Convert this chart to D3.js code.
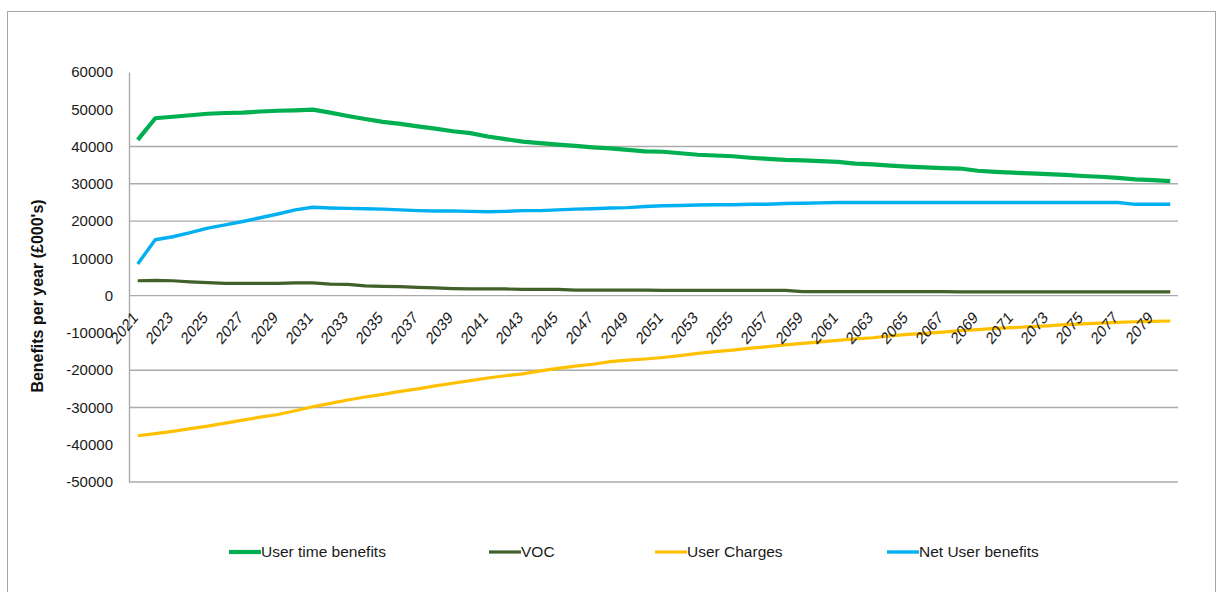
<!DOCTYPE html>
<html>
<head>
<meta charset="utf-8">
<script src="https://cdn.jsdelivr.net/npm/d3@7"></script>
<style>
  html, body { margin: 0; padding: 0; background: #fff; }
  svg { display: block; font-family: "Liberation Sans", Arial, sans-serif; }
</style>
</head>
<body>
<svg id="chart" width="1223" height="592"></svg>
<script>
// Appraisal years
const years = [
  2021, 2022, 2023, 2024, 2025, 2026, 2027, 2028, 2029, 2030,
  2031, 2032, 2033, 2034, 2035, 2036, 2037, 2038, 2039, 2040,
  2041, 2042, 2043, 2044, 2045, 2046, 2047, 2048, 2049, 2050,
  2051, 2052, 2053, 2054, 2055, 2056, 2057, 2058, 2059, 2060,
  2061, 2062, 2063, 2064, 2065, 2066, 2067, 2068, 2069, 2070,
  2071, 2072, 2073, 2074, 2075, 2076, 2077, 2078, 2079, 2080
];

// Benefits per year (£000's)
const userTimeBenefits = [
  41800, 47600, 48000, 48400, 48800, 49000, 49100, 49400, 49600, 49700,
  49900, 49100, 48200, 47400, 46600, 46100, 45400, 44800, 44100, 43600,
  42700, 42000, 41300, 40900, 40500, 40200, 39800, 39500, 39100, 38700,
  38600, 38200, 37800, 37600, 37400, 37000, 36700, 36400, 36300, 36100,
  35900, 35400, 35200, 34900, 34600, 34400, 34200, 34100, 33500, 33200,
  33000, 32800, 32600, 32400, 32100, 31900, 31600, 31200, 31000, 30700
];
const voc = [
  4000, 4100, 4000, 3700, 3500, 3300, 3300, 3300, 3300, 3400,
  3400, 3100, 3000, 2600, 2500, 2400, 2200, 2100, 1900, 1800,
  1800, 1800, 1700, 1700, 1700, 1500, 1500, 1500, 1500, 1500,
  1400, 1400, 1400, 1400, 1400, 1400, 1400, 1400, 1100, 1100,
  1100, 1100, 1100, 1100, 1100, 1100, 1100, 1000, 1000, 1000,
  1000, 1000, 1000, 1000, 1000, 1000, 1000, 1000, 1000, 1000
];
const userCharges = [
  -37600, -37000, -36400, -35700, -35000, -34200, -33400, -32600, -31900, -30900,
  -29800, -28900, -28000, -27200, -26500, -25700, -25000, -24200, -23500, -22800,
  -22100, -21500, -21000, -20200, -19500, -18900, -18400, -17700, -17300, -17000,
  -16600, -16100, -15500, -15000, -14600, -14100, -13700, -13200, -12800, -12400,
  -12000, -11600, -11300, -10800, -10400, -10100, -9800, -9400, -9100, -8800,
  -8600, -8300, -8100, -7800, -7600, -7400, -7200, -7000, -6900, -6800
];
const netUserBenefits = [
  8500, 15000, 15800, 16900, 18100, 19000, 19900, 20900, 21900, 23000,
  23700, 23500, 23400, 23300, 23200, 23000, 22800, 22700, 22700, 22600,
  22500, 22600, 22800, 22800, 23000, 23200, 23300, 23500, 23600, 23900,
  24100, 24200, 24300, 24400, 24400, 24500, 24500, 24700, 24800, 24900,
  25000, 25000, 25000, 25000, 25000, 25000, 25000, 25000, 25000, 25000,
  25000, 25000, 25000, 25000, 25000, 25000, 25000, 24500, 24500, 24500
];

// Axis labels
const yTickValues = [60000, 50000, 40000, 30000, 20000, 10000, 0, -10000, -20000, -30000, -40000, -50000];
const gridValues = [40000, 30000, 20000, 0, -20000, -30000, -50000];
const xTickLabels = years.filter((d, i) => i % 2 === 0);

const seriesNames = ["User time benefits", "VOC", "User Charges", "Net User benefits"];
const seriesValues = [userTimeBenefits, voc, userCharges, netUserBenefits];
const seriesColors = ["#00b050", "#41602a", "#ffc000", "#00b0f0"];
const seriesWidths = [4.2, 3.2, 3.2, 3.4];

const svg = d3.select("#chart");

// Outer frame
svg.append("rect")
  .attr("x", 7.5).attr("y", 11.5)
  .attr("width", 1208).attr("height", 590)
  .attr("fill", "#fff").attr("stroke", "#a6a6a6").attr("stroke-width", 1);

const x = d3.scalePoint().domain(years).range([129, 1179]).padding(0.5);
const y = d3.scaleLinear().domain([-50000, 60000]).range([482, 72]);

// Horizontal gridlines
svg.append("g")
  .selectAll("line")
  .data(gridValues)
  .join("line")
  .attr("x1", 129).attr("x2", 1178)
  .attr("y1", d => y(d)).attr("y2", d => y(d))
  .attr("stroke", "#ababab").attr("stroke-width", 1.4);

// Y axis (plain hyphen for negatives)
const yAxis = svg.append("g")
  .attr("transform", "translate(129,0)")
  .call(d3.axisLeft(y).tickValues(yTickValues).tickSize(0).tickPadding(16).tickFormat(d => String(d)));
yAxis.select(".domain").attr("stroke", "#ababab").attr("stroke-width", 1.4);
yAxis.selectAll("text")
  .attr("font-size", 15)
  .attr("font-family", "'Liberation Sans', Arial, sans-serif")
  .attr("fill", "#1a1a1a");

// Series lines
const line = d3.line()
  .x((d, i) => x(years[i]))
  .y(d => y(d));

svg.append("g")
  .selectAll("path")
  .data(seriesValues)
  .join("path")
  .attr("d", d => line(d))
  .attr("fill", "none")
  .attr("stroke", (d, i) => seriesColors[i])
  .attr("stroke-width", (d, i) => seriesWidths[i])
  .attr("stroke-linejoin", "round");

// Year labels, rotated and slightly condensed, drawn above the lines
svg.append("g")
  .selectAll("text")
  .data(xTickLabels)
  .join("text")
  .attr("transform", d => `translate(${x(d) + 1},${y(0) + 23}) scale(0.82,1) rotate(-45)`)
  .attr("text-anchor", "end")
  .attr("font-size", 17)
  .attr("fill", "#1a1a1a")
  .text(d => d);

// Y axis title
svg.append("text")
  .attr("transform", "translate(43,296) rotate(-90)")
  .attr("text-anchor", "middle")
  .attr("font-size", 16)
  .attr("font-weight", "bold")
  .attr("fill", "#111")
  .text("Benefits per year (£000's)");

// Legend
const legendStarts = [229, 489, 655, 887];
const legend = svg.append("g")
  .selectAll("g")
  .data(seriesNames)
  .join("g")
  .attr("transform", (d, i) => `translate(${legendStarts[i]},552)`);
legend.append("line")
  .attr("x1", 0).attr("x2", 32)
  .attr("stroke", (d, i) => seriesColors[i])
  .attr("stroke-width", (d, i) => seriesWidths[i]);
legend.append("text")
  .attr("x", 32)
  .attr("dy", "0.35em")
  .attr("font-size", 15.5)
  .attr("fill", "#1a1a1a")
  .text(d => d);
</script>
</body>
</html>
